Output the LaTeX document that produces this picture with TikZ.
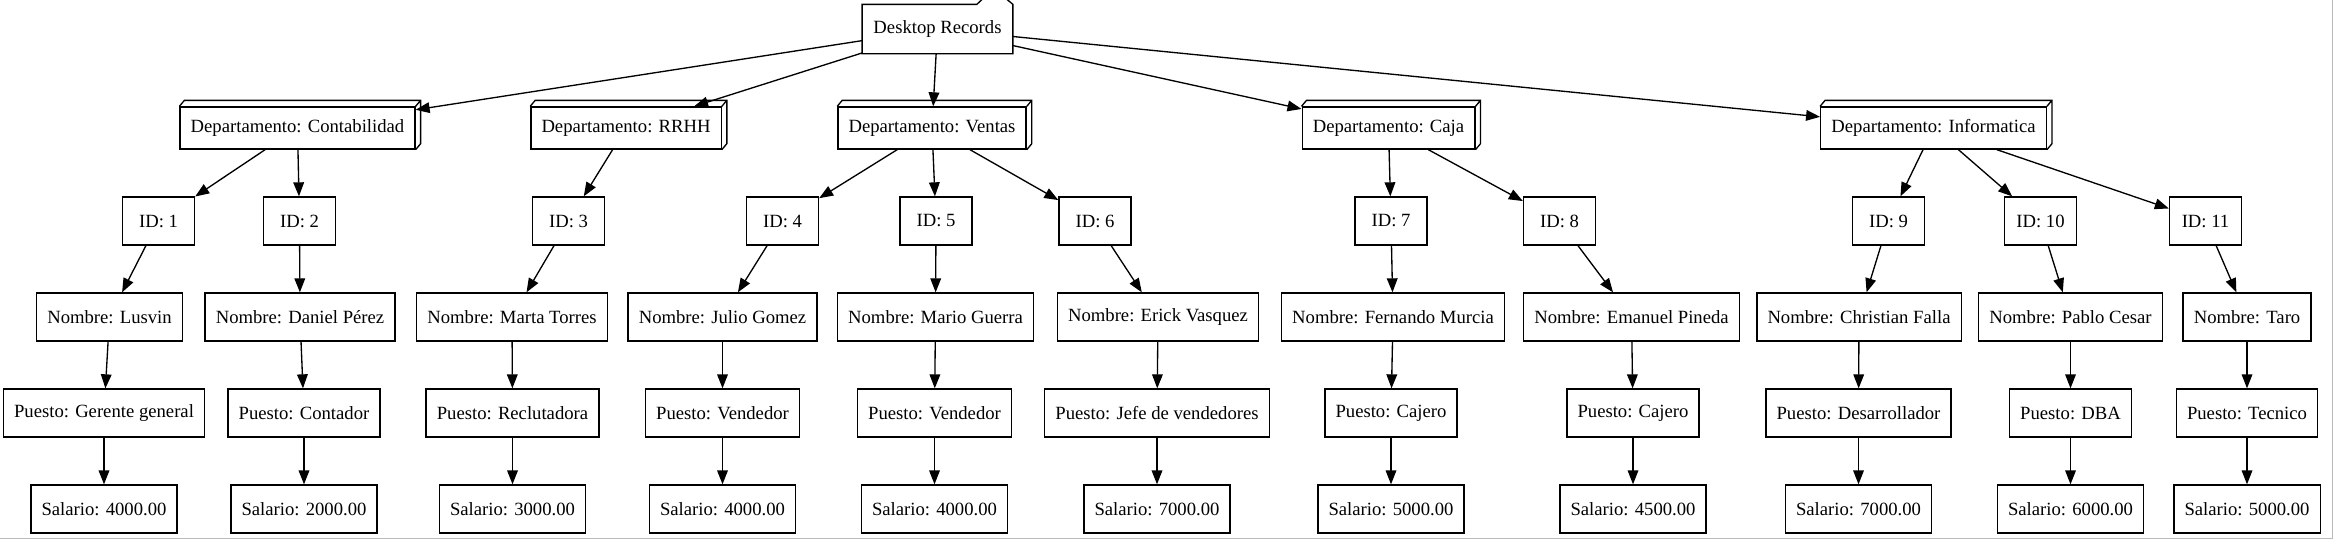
\documentclass[tikz,border=0pt]{standalone}
\usepackage{fontspec}
\setmainfont{Liberation Serif}
\usepackage{tikz}
\usetikzlibrary{arrows.meta}

\begin{document}
\begin{tikzpicture}[x=0.75pt,y=-0.75pt,
    dato/.style={draw,line width=1pt,minimum height=36pt,minimum width=54pt,inner xsep=8pt,inner ysep=0pt,font=\fontsize{14}{16}\selectfont},
    depto/.style={dato,minimum height=31.5pt},
    flecha/.style={-{Triangle[length=10.5pt,width=8pt]},line width=1pt}]
\useasboundingbox (0,0) rectangle (2333,539);
\draw[gray!55] (2332,0) -- (2332,538) -- (0,538); % thin grey frame at the right and the bottom

\draw (937.5,29) node[dato,draw=none] (root) {Desktop Records}; % the root, drawn as a folder just below
\draw[line width=1pt] (root.south west) -- (root.north west) -- ([xshift=-27pt]root.north east) -- ([xshift=-23pt,yshift=3.75pt]root.north east)
      -- ([xshift=-4.5pt,yshift=3.75pt]root.north east) -- (root.north east) -- (root.south east) -- cycle;

% departments, front face first and then the 3d part on top and right
\draw (297.5,128) node[depto] (cont) {Departamento: Contabilidad};
\draw (626,128) node[depto] (rrhh) {Departamento: RRHH};
\draw (932,128) node[depto] (vent) {Departamento: Ventas};
\draw (1388.5,128) node[depto] (dcaja) {Departamento: Caja};
\draw (1933.5,128) node[depto] (info) {Departamento: Informatica};
\draw[line width=1pt] (cont.north west) -- ++(5,-6) -- ([shift={(5,-6)}]cont.north east) -- ([shift={(5,-6)}]cont.south east) -- (cont.south east) (cont.north east) -- ++(5,-6);
\draw[line width=1pt] (rrhh.north west) -- ++(5,-6) -- ([shift={(5,-6)}]rrhh.north east) -- ([shift={(5,-6)}]rrhh.south east) -- (rrhh.south east) (rrhh.north east) -- ++(5,-6);
\draw[line width=1pt] (vent.north west) -- ++(5,-6) -- ([shift={(5,-6)}]vent.north east) -- ([shift={(5,-6)}]vent.south east) -- (vent.south east) (vent.north east) -- ++(5,-6);
\draw[line width=1pt] (dcaja.north west) -- ++(5,-6) -- ([shift={(5,-6)}]dcaja.north east) -- ([shift={(5,-6)}]dcaja.south east) -- (dcaja.south east) (dcaja.north east) -- ++(5,-6);
\draw[line width=1pt] (info.north west) -- ++(5,-6) -- ([shift={(5,-6)}]info.north east) -- ([shift={(5,-6)}]info.south east) -- (info.south east) (info.north east) -- ++(5,-6);

% the IDs
\draw (158.5,221) node[dato] (id1) {ID: 1};
\draw (299.5,221) node[dato] (id2) {ID: 2};
\draw (568.5,221) node[dato] (id3) {ID: 3};
\draw (782.5,221) node[dato] (id4) {ID: 4};
\draw (936,221) node[dato] (id5) {ID: 5};
\draw (1095,221) node[dato] (id6) {ID: 6};
\draw (1391,221) node[dato] (id7) {ID: 7};
\draw (1559.5,221) node[dato] (id8) {ID: 8};
\draw (1888.5,221) node[dato] (id9) {ID: 9};
\draw (2040.5,221) node[dato] (id10) {ID: 10};
\draw (2205.5,221) node[dato] (id11) {ID: 11};

% names
\draw (109.5,317) node[dato] (nom1) {Nombre: Lusvin};
\draw (300,317) node[dato] (nom2) {Nombre: Daniel Pérez};
\draw (512,317) node[dato] (nom3) {Nombre: Marta Torres};
\draw (722.5,317) node[dato] (nom4) {Nombre: Julio Gomez};
\draw (935.5,317) node[dato] (nom5) {Nombre: Mario Guerra};
\draw (1158,317) node[dato] (nom6) {Nombre: Erick Vasquez};
\draw (1393,317) node[dato] (nom7) {Nombre: Fernando Murcia};
\draw (1631.5,317) node[dato] (nom8) {Nombre: Emanuel Pineda};
\draw (1859,317) node[dato] (nom9) {Nombre: Christian Falla};
\draw (2070.5,317) node[dato] (nom10) {Nombre: Pablo Cesar};
\draw (2247,317) node[dato] (nom11) {Nombre: Taro};

% jobs
\draw (104,413) node[dato] (pue1) {Puesto: Gerente general};
\draw (304,413) node[dato] (pue2) {Puesto: Contador};
\draw (512.5,413) node[dato] (pue3) {Puesto: Reclutadora};
\draw (722.5,413) node[dato] (pue4) {Puesto: Vendedor};
\draw (934.5,413) node[dato] (pue5) {Puesto: Vendedor};
\draw (1157,413) node[dato] (pue6) {Puesto: Jefe de vendedores};
\draw (1391,413) node[dato] (pue7) {Puesto: Cajero};
\draw (1633,413) node[dato] (pue8) {Puesto: Cajero};
\draw (1858.5,413) node[dato] (pue9) {Puesto: Desarrollador};
\draw (2070.5,413) node[dato] (pue10) {Puesto: DBA};
\draw (2247,413) node[dato] (pue11) {Puesto: Tecnico};

% salaries
\draw (104,509) node[dato] (sal1) {Salario: 4000.00};
\draw (304,509) node[dato] (sal2) {Salario: 2000.00};
\draw (512.5,509) node[dato] (sal3) {Salario: 3000.00};
\draw (722.5,509) node[dato] (sal4) {Salario: 4000.00};
\draw (934.5,509) node[dato] (sal5) {Salario: 4000.00};
\draw (1157,509) node[dato] (sal6) {Salario: 7000.00};
\draw (1391,509) node[dato] (sal7) {Salario: 5000.00};
\draw (1633,509) node[dato] (sal8) {Salario: 4500.00};
\draw (1858.5,509) node[dato] (sal9) {Salario: 7000.00};
\draw (2070.5,509) node[dato] (sal10) {Salario: 6000.00};
\draw (2247,509) node[dato] (sal11) {Salario: 5000.00};

% arrows from the root and the departments
\draw[flecha] (root) -- (cont);  \draw[flecha] (root) -- (rrhh);  \draw[flecha] (root) -- (vent);
\draw[flecha] (root) -- (dcaja); \draw[flecha] (root) -- (info);
\draw[flecha] (cont) -- (id1);   \draw[flecha] (cont) -- (id2);   \draw[flecha] (rrhh) -- (id3);
\draw[flecha] (vent) -- (id4);   \draw[flecha] (vent) -- (id5);   \draw[flecha] (vent) -- (id6);
\draw[flecha] (dcaja) -- (id7);  \draw[flecha] (dcaja) -- (id8);
\draw[flecha] (info) -- (id9);   \draw[flecha] (info) -- (id10);  \draw[flecha] (info) -- (id11);
% each record down to its salary
\draw[flecha] (id1) -- (nom1);   \draw[flecha] (nom1) -- (pue1);   \draw[flecha] (pue1) -- (sal1);
\draw[flecha] (id2) -- (nom2);   \draw[flecha] (nom2) -- (pue2);   \draw[flecha] (pue2) -- (sal2);
\draw[flecha] (id3) -- (nom3);   \draw[flecha] (nom3) -- (pue3);   \draw[flecha] (pue3) -- (sal3);
\draw[flecha] (id4) -- (nom4);   \draw[flecha] (nom4) -- (pue4);   \draw[flecha] (pue4) -- (sal4);
\draw[flecha] (id5) -- (nom5);   \draw[flecha] (nom5) -- (pue5);   \draw[flecha] (pue5) -- (sal5);
\draw[flecha] (id6) -- (nom6);   \draw[flecha] (nom6) -- (pue6);   \draw[flecha] (pue6) -- (sal6);
\draw[flecha] (id7) -- (nom7);   \draw[flecha] (nom7) -- (pue7);   \draw[flecha] (pue7) -- (sal7);
\draw[flecha] (id8) -- (nom8);   \draw[flecha] (nom8) -- (pue8);   \draw[flecha] (pue8) -- (sal8);
\draw[flecha] (id9) -- (nom9);   \draw[flecha] (nom9) -- (pue9);   \draw[flecha] (pue9) -- (sal9);
\draw[flecha] (id10) -- (nom10); \draw[flecha] (nom10) -- (pue10); \draw[flecha] (pue10) -- (sal10);
\draw[flecha] (id11) -- (nom11); \draw[flecha] (nom11) -- (pue11); \draw[flecha] (pue11) -- (sal11);
\end{tikzpicture}
\end{document}
